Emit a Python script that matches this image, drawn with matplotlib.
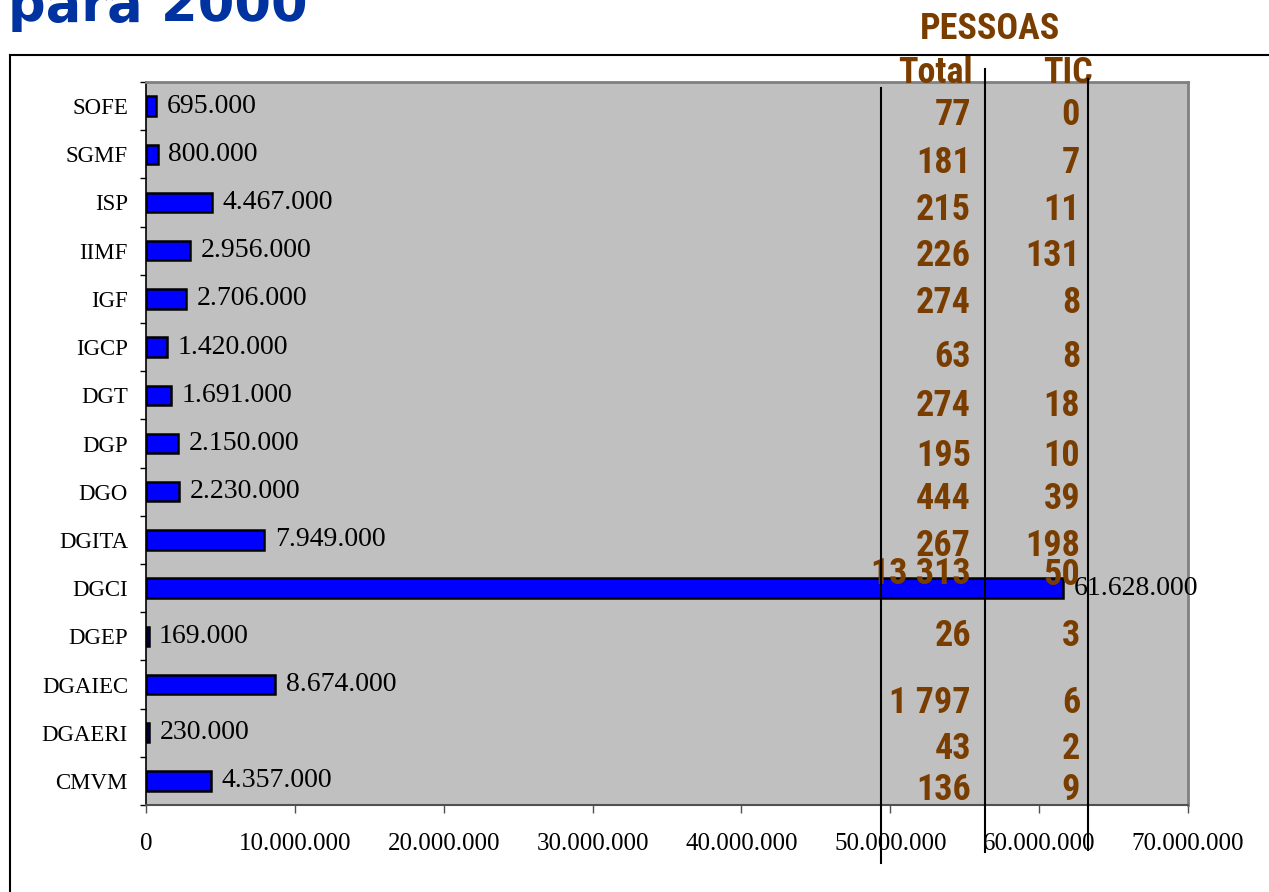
import matplotlib
matplotlib.use('Agg')
import matplotlib.pyplot as plt
from matplotlib.lines import Line2D
import numpy as np

# ---- data ----
categories = ['SOFE', 'SGMF', 'ISP', 'IIMF', 'IGF', 'IGCP', 'DGT', 'DGP', 'DGO',
              'DGITA', 'DGCI', 'DGEP', 'DGAIEC', 'DGAERI', 'CMVM']
budget = [695000, 800000, 4467000, 2956000, 2706000, 1420000, 1691000, 2150000,
          2230000, 7949000, 61628000, 169000, 8674000, 230000, 4357000]
people_total = [77, 181, 215, 226, 274, 63, 274, 195, 444, 267, 13313, 26, 1797, 43, 136]
people_tic = [0, 7, 11, 131, 8, 8, 18, 10, 39, 198, 50, 3, 6, 2, 9]
x_tick_values = [0, 10000000, 20000000, 30000000, 40000000, 50000000, 60000000, 70000000]
title_text = 'para 2000'
header_group = 'PESSOAS'
header_cols = ['Total', 'TIC']

# ---- layout (pixels) ----
W, H = 1269, 892
total_baseline_px = [19, 19, 17, 15, 14, 20, 21, 22, 17, 16, -4, 10, 28, 26, 19]
tic_baseline_px = [19, 19, 17, 15, 14, 20, 21, 22, 17, 16, -3, 10, 28, 26, 19]

BROWN = '#7A3D00'
SERIF = ['Liberation Serif', 'DejaVu Serif']
NARROW = ['Roboto Condensed', 'PT Sans Narrow', 'DejaVu Sans']
NSIZE = 26


def fx(px):
    return px / W


def fy(py):
    return 1 - py / H


def dots(v):
    return f"{int(v):,}".replace(',', '.')


def spaced(v):
    return f"{int(v):,}".replace(',', ' ')


fig = plt.figure(figsize=(W / 100, H / 100), dpi=100)
fig.patch.set_facecolor('white')

# outer frame of the slide
fig.add_artist(Line2D([fx(10), 1.0], [fy(55), fy(55)], transform=fig.transFigure,
                      color='black', lw=1.5))
fig.add_artist(Line2D([fx(10), fx(10)], [fy(55), 0.0], transform=fig.transFigure,
                      color='black', lw=1.5))

# title (cropped at top)
fig.text(fx(8), fy(21), title_text, fontsize=38, fontweight='bold',
         color='#0033A0', family='DejaVu Sans', va='baseline', ha='left')

ax = fig.add_axes([fx(146), fy(805), fx(1188) - fx(146), fy(82) - fy(805)])
ax.set_facecolor('#C0C0C0')

y = np.arange(len(categories))
ax.barh(y, budget, height=0.4, color='#0000FF', edgecolor='black',
        linewidth=1.8, zorder=3)
ax.set_xlim(0, 70000000)
ax.set_ylim(len(categories) - 0.5, -0.5)

# value labels
for yi, v in zip(y, budget):
    ax.annotate(dots(v), xy=(v, yi), xytext=(7.5, 0), textcoords='offset points',
                va='center', ha='left', fontsize=20, family=SERIF,
                color='black', zorder=5)

# spines
for s in ['top', 'right']:
    ax.spines[s].set_color('#808080')
    ax.spines[s].set_linewidth(2)
ax.spines['left'].set_color('black')
ax.spines['left'].set_linewidth(1.2)
ax.spines['bottom'].set_color('#505050')
ax.spines['bottom'].set_linewidth(1.5)

# y ticks
ax.set_yticks(y)
ax.set_yticklabels(categories, family=SERIF, fontsize=16.5)
ax.tick_params(axis='y', which='major', length=0, pad=13)
ax.set_yticks(np.arange(-0.5, len(categories) + 0.5, 1), minor=True)
ax.tick_params(axis='y', which='minor', length=4, width=1, color='black')

# x ticks
ax.set_xticks(x_tick_values)
ax.set_xticklabels([dots(v) for v in x_tick_values], family=SERIF, fontsize=18)
ax.tick_params(axis='x', which='major', length=6, width=1, pad=14, color='#505050')

# people columns
for yi, t, c, bt, bc in zip(y, people_total, people_tic, total_baseline_px, tic_baseline_px):
    ax.annotate(spaced(t), xy=(0.7917, yi), xycoords=('axes fraction', 'data'),
                xytext=(0, -bt * 0.72), textcoords='offset points',
                ha='right', va='baseline', fontsize=NSIZE, fontweight='bold',
                family=NARROW, color=BROWN, zorder=6)
    ax.annotate(spaced(c), xy=(0.8964, yi), xycoords=('axes fraction', 'data'),
                xytext=(0, -bc * 0.72), textcoords='offset points',
                ha='right', va='baseline', fontsize=NSIZE, fontweight='bold',
                family=NARROW, color=BROWN, zorder=6)

# headers
ax.text(0.758, 0.9986, header_cols[0], transform=ax.transAxes, ha='center',
        va='baseline', fontsize=NSIZE, fontweight='bold', family=NARROW, color=BROWN)
ax.text(0.8848, 0.9986, header_cols[1], transform=ax.transAxes, ha='center',
        va='baseline', fontsize=NSIZE, fontweight='bold', family=NARROW, color=BROWN)
ax.text(0.81, 1.0595, header_group, transform=ax.transAxes, ha='center',
        va='baseline', fontsize=NSIZE, fontweight='bold', family=NARROW, color=BROWN)

# column separator lines
for xf, top, bot in [(0.7054, 0.992, -0.080), (0.8052, 1.018, -0.065), (0.9040, 1.004, -0.062)]:
    ax.plot([xf, xf], [bot, top], transform=ax.transAxes, color='black', lw=1.5,
            clip_on=False, zorder=7)

fig.savefig('out.png', dpi=100)
